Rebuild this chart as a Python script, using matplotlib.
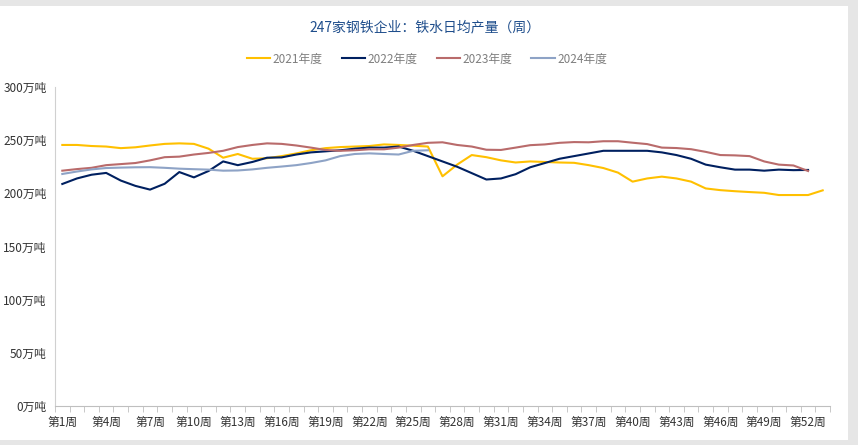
import numpy as np
import matplotlib
matplotlib.use("Agg")
import matplotlib.pyplot as plt

plt.rcParams['font.family'] = ['Noto Sans CJK SC', 'DejaVu Sans']

# weekly values, 万吨
y2021 = [245.5, 245.5, 244.5, 244, 242.5, 243.3, 245, 246.5, 247, 246.5,
         242, 233.5, 237, 232.5, 233, 235, 237.5, 240.5, 242.5, 243.5,
         244, 244.5, 246, 245.5, 244.8, 244, 216, 227, 236, 234,
         231, 229, 230, 229.5, 229, 228.7, 226.5, 223.8, 219.5, 211,
         214, 215.7, 214, 211, 204.6, 203, 202, 201.2, 200.5, 198.4,
         198.4, 198.4, 202.8]
y2022 = [208.8, 214, 217.5, 219.2, 212, 207, 203.5, 209, 220, 215,
         221, 230, 226.5, 229.5, 233.5, 233.8, 236.5, 238.5, 239.5, 240.5,
         242, 243, 243, 244, 240, 235, 230, 225, 219, 213,
         214, 218, 224.5, 228.5, 232.5, 235, 237.5, 240, 240, 240,
         240, 238.5, 236, 232.5, 227, 224.5, 222.3, 222.3, 221.3, 222.3,
         221.8, 222]
y2023 = [221.3, 222.8, 224, 226.5, 227.5, 228.5, 231, 234, 234.5, 236.5,
         238, 240, 243.5, 245.5, 247, 246.5, 245, 243, 240.8, 240,
         240.5, 241.4, 241.4, 243, 245.5, 247.5, 248, 245.5, 244, 241,
         240.8, 243, 245.3, 246, 247.5, 248.2, 248, 249, 249, 247.6,
         246.3, 243, 242.6, 241.5, 239, 236, 235.7, 235, 230, 227,
         226.2, 221]
y2024 = [218.2, 220.5, 222.5, 223.8, 224.2, 224.5, 224.6, 224, 223.2, 222.7,
         222.3, 221.3, 221.5, 222.5, 224, 225.2, 226.5, 228.5, 231, 235,
         237, 237.6, 237, 236.5, 240, 240.5]

series = [("2021年度", y2021, "#FFC000"),
          ("2022年度", y2022, "#002060"),
          ("2023年度", y2023, "#B96B6B"),
          ("2024年度", y2024, "#8EA3C6")]

weeks = np.arange(1, 54)
week_labels = ["第%d周" % w for w in weeks]
yticks = [0, 50, 100, 150, 200, 250, 300]

fig = plt.figure(figsize=(8.58, 4.45), dpi=100)
fig.patch.set_facecolor("#E6E6E6")

# white panel behind the chart
bg = fig.add_axes([0, 5 / 445, 848 / 858, 434 / 445])
bg.set_facecolor("white")
bg.set_xticks([])
bg.set_yticks([])
for s in bg.spines.values():
    s.set_visible(False)

ax = fig.add_axes([55 / 858, 1 - 406 / 445, (830 - 55) / 858, (406 - 87) / 445])
ax.set_facecolor("none")

for name, vals, col in series:
    ax.plot(np.arange(1, len(vals) + 1), vals, color=col, lw=1.5, label=name)

ax.set_xlim(0.5, 53.5)
ax.set_ylim(0, 300)
ax.set_yticks(yticks)
ax.set_yticklabels(["%d万吨" % v for v in yticks], fontsize=8.5, color="#333333")
ax.set_xticks(weeks[::3])
ax.set_xticklabels(week_labels[::3], fontsize=8.5, color="#333333")
ax.set_xticks(np.arange(0.5, 54, 1), minor=True)
ax.tick_params(axis="x", which="major", length=0, pad=7)
ax.tick_params(axis="x", which="minor", length=4, color="#BFBFBF", direction="out")
ax.tick_params(axis="y", length=0, pad=6)

for s in ["top", "right"]:
    ax.spines[s].set_visible(False)
ax.spines["left"].set_color("#D0D0D0")
ax.spines["bottom"].set_color("#BFBFBF")

fig.text(425 / 858, 1 - 27 / 445, "247家钢铁企业：铁水日均产量（周）",
         ha="center", va="center", fontsize=10, color="#1F4E8C")
fig.legend(loc="center", bbox_to_anchor=(427 / 858, 1 - 59 / 445), ncol=4,
           frameon=False, fontsize=8.5, handlelength=2.0, handletextpad=0.2,
           columnspacing=1.6, labelcolor="#7F7F7F")

fig.savefig("out.png", dpi=100, facecolor=fig.get_facecolor())
